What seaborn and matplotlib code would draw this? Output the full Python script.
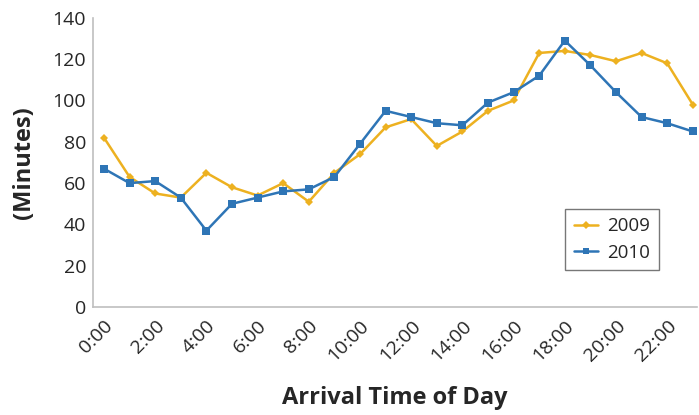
import numpy as np
import pandas as pd
import matplotlib.pyplot as plt
import seaborn as sns

# hours of day (0:00 .. 23:00)
hours = list(range(24))
tick_hours = list(range(0, 24, 2))
tick_labels = [f"{h}:00" for h in tick_hours]

minutes_2009 = [82, 63, 55, 53, 65, 58, 54, 60, 51, 65, 74, 87,
                91, 78, 85, 95, 100, 123, 124, 122, 119, 123, 118, 98]
minutes_2010 = [67, 60, 61, 53, 37, 50, 53, 56, 57, 63, 79, 95,
                92, 89, 88, 99, 104, 112, 129, 117, 104, 92, 89, 85]

df = pd.DataFrame({
    "hour": hours * 2,
    "minutes": minutes_2009 + minutes_2010,
    "year": ["2009"] * 24 + ["2010"] * 24,
})

sns.set_theme(style="white")
plt.rcParams["font.family"] = ["Open Sans", "DejaVu Sans"]

fig = plt.figure(figsize=(6.99, 4.15), dpi=100)
ax = fig.add_axes([0.133, 0.26, 0.864, 0.697])

palette = {"2009": "#EDB120", "2010": "#2E75B6"}
sns.lineplot(
    data=df, x="hour", y="minutes", hue="year", style="year",
    markers={"2009": "D", "2010": "s"}, dashes=False, palette=palette,
    linewidth=1.8, markersize=5.5, markeredgewidth=0, ax=ax,
)
# smaller diamonds for 2009
ax.lines[0].set_markersize(3.8)

ax.set_xlim(-0.43, 23.16)
ax.set_ylim(0, 140)
ax.set_yticks(range(0, 141, 20))
ax.set_xticks(tick_hours)
ax.set_xticklabels(tick_labels, rotation=45, ha="right", rotation_mode="anchor")
ax.tick_params(axis="both", length=0, labelsize=14, colors="#262626")
ax.tick_params(axis="x", pad=7)
ax.tick_params(axis="y", pad=5)

for side in ["top", "right"]:
    ax.spines[side].set_visible(False)
for side in ["left", "bottom"]:
    ax.spines[side].set_color("#BFBFBF")
    ax.spines[side].set_linewidth(1.2)

ax.set_xlabel("Arrival Time of Day", fontsize=17, fontweight="bold",
              color="#262626", labelpad=15)
ax.set_ylabel("(Minutes)", fontsize=17, fontweight="bold",
              color="#262626", labelpad=12)

leg = ax.legend(loc="lower right", bbox_to_anchor=(0.937, 0.128), borderaxespad=0,
                fontsize=13.5, frameon=True, fancybox=False, edgecolor="#555555",
                handlelength=1.3, handletextpad=0.5, borderpad=0.45, labelspacing=0.45)
leg.get_frame().set_linewidth(1.0)
for h in leg.legend_handles:
    h.set_markersize(4)

fig.savefig("out.png", dpi=100)
